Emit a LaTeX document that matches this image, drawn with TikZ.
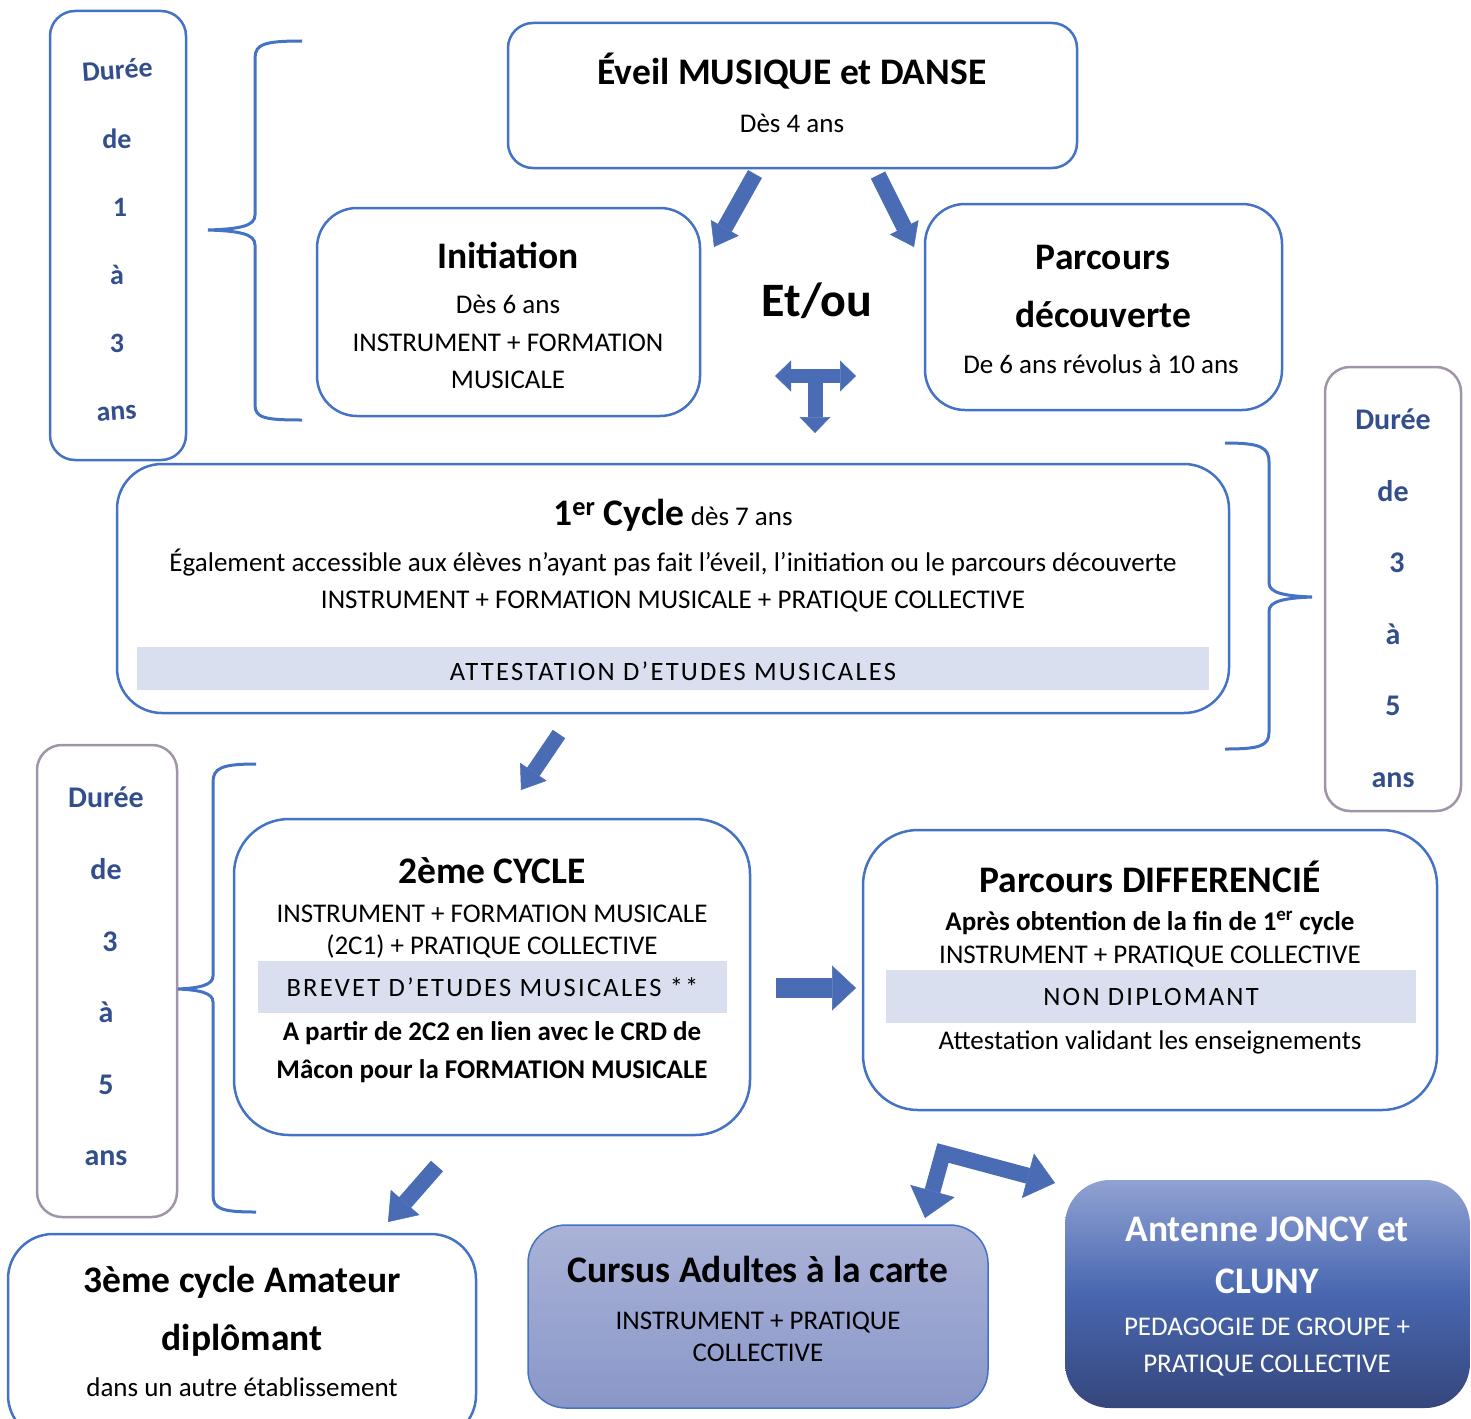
\documentclass[tikz,border=0pt]{standalone}
\usepackage{fontspec}
\setmainfont{Carlito}
\usetikzlibrary{arrows.meta}

\definecolor{boxblue}{RGB}{68,114,196}
\definecolor{arrowblue}{RGB}{74,108,180}
\definecolor{dureeblue}{RGB}{50,78,140}
\definecolor{dureegray}{RGB}{160,148,168}
\definecolor{bandgray}{RGB}{217,223,239}

\tikzset{
  box/.style={draw=boxblue, line width=2.5pt, rounded corners=#1, inner sep=0pt},
  box/.default=40pt,
  body/.style={font=\fontsize{27}{32}\selectfont, anchor=base, inner sep=0pt},
  bodybold/.style={font=\fontsize{27}{32}\selectfont\bfseries, anchor=base, inner sep=0pt},
  heading/.style={font=\fontsize{37.5}{44}\selectfont\bfseries, anchor=base, inner sep=0pt},
  duree/.style={font=\fontsize{30}{36}\selectfont\bfseries, text=dureeblue, anchor=base, inner sep=0pt},
  band/.style={fill=bandgray, inner sep=0pt, font=\fontsize{26.5}{31}\selectfont\addfontfeature{LetterSpace=8.5}},
  brace/.style={draw=boxblue, line width=3pt},
  blockarrow/.style n args={3}{line width=#1, draw=arrowblue,
    -{Triangle[width=#2, length=#3, line width=0.5pt]}},
  blockarrows/.style n args={3}{line width=#1, draw=arrowblue, line join=miter,
    {Triangle[width=#2, length=#3, line width=0.5pt]}-{Triangle[width=#2, length=#3, line width=0.5pt]}}
}

\begin{document}
\begin{tikzpicture}[x=1pt, y=-1pt]
        \useasboundingbox (0,0) rectangle (1471,1418);

        % Boxes
        \node[box=25pt, minimum width=569pt, minimum height=145pt] (eveil) at (792.5,95.5) {};
        \node[box, minimum width=383pt, minimum height=208pt] (initiation) at (508.5,312) {};
        \node[box, minimum width=357pt, minimum height=206pt] (decouverte) at (1103.5,307) {};
        \node[box=45pt, minimum width=1112pt, minimum height=249pt] (cycleone) at (673,588.5) {};
        \node[box=55pt, minimum width=516pt, minimum height=316pt] (cycletwo) at (492,977) {};
        \node[box=55pt, minimum width=574pt, minimum height=280pt] (differencie) at (1150,970) {};
        \node[box=45pt, minimum width=468pt, minimum height=206pt] (cyclethree) at (242,1337) {};
        \node[box=38pt, line width=1.5pt, top color={rgb,255:red,170;green,178;blue,215},
              bottom color={rgb,255:red,137;green,151;blue,200},
              minimum width=460pt, minimum height=183pt] (adultes) at (758,1316.5) {};
        \node[box=45pt, draw=none, top color={rgb,255:red,145;green,162;blue,211},
              bottom color={rgb,255:red,53;green,70;blue,124},
              middle color={rgb,255:red,72;green,103;blue,176},
              minimum width=405pt, minimum height=228pt] (antenne) at (1267.5,1294) {};

        % Duration boxes
        \node[box=25pt, minimum width=136pt, minimum height=449pt] (dureeA) at (118,235.5) {};
        \node[box=25pt, draw=dureegray, minimum width=136pt, minimum height=444pt] (dureeB) at (1393,589) {};
        \node[box=25pt, draw=dureegray, minimum width=140pt, minimum height=472pt] (dureeC) at (107,981) {};

        % Bands
        \node[band, text height=24pt, minimum width=1072pt, minimum height=43pt] (attestation) at (673,668.5) {ATTESTATION D’ETUDES MUSICALES};
        \node[band, minimum width=469pt, minimum height=52pt] (brevet) at (492.5,987) {BREVET D’ETUDES MUSICALES **};
        \node[band, minimum width=530pt, minimum height=53pt] (nondiplomant) at (1151,996.5) {NON DIPLOMANT};

        % Texts
        \node[heading] at (792,85) {Éveil MUSIQUE et DANSE};
        \node[body] at (792,132) {Dès 4 ans};

        \node[heading] at (508,268) {Initiation};
        \node[body] at (508,313) {Dès 6 ans};
        \node[body] at (508,351) {INSTRUMENT + FORMATION};
        \node[body] at (508,388) {MUSICALE};

        \node[heading] at (1103,269) {Parcours};
        \node[heading] at (1103,327) {découverte};
        \node[body] at (1101,373) {De 6 ans révolus à 10 ans};

        \node[font=\fontsize{48}{56}\selectfont\bfseries, anchor=base, inner sep=0pt] (etou) at (817,316) {Et/ou};

        \node[anchor=base, inner sep=0pt] at (673,525) {\fontsize{37.5}{44}\selectfont\bfseries 1\textsuperscript{er} Cycle\fontsize{27}{32}\selectfont\mdseries{} dès 7 ans};
        \node[body] at (673,571) {Également accessible aux élèves n’ayant pas fait l’éveil, l’initiation ou le parcours découverte};
        \node[body] at (673,608) {INSTRUMENT + FORMATION MUSICALE + PRATIQUE COLLECTIVE};

        \node[heading] at (492,883) {2ème CYCLE};
        \node[body] at (492,922) {INSTRUMENT + FORMATION MUSICALE};
        \node[body] at (492,954) {(2C1) + PRATIQUE COLLECTIVE};
        \node[bodybold] at (492,1040) {A partir de 2C2 en lien avec le CRD de};
        \node[bodybold] at (492,1078) {Mâcon pour la FORMATION MUSICALE};

        \node[heading] at (1150,892) {Parcours DIFFERENCIÉ};
        \node[bodybold] at (1150,930) {Après obtention de la fin de 1\textsuperscript{er} cycle};
        \node[body] at (1150,963) {INSTRUMENT + PRATIQUE COLLECTIVE};
        \node[body] at (1150,1049) {Attestation validant les enseignements};

        \node[heading] at (242,1292) {3ème cycle Amateur};
        \node[heading] at (242,1350) {diplômant};
        \node[body] at (242,1396) {dans un autre établissement};

        \node[heading] at (758,1282) {Cursus Adultes à la carte};
        \node[body] at (758,1329) {INSTRUMENT + PRATIQUE};
        \node[body] at (758,1361) {COLLECTIVE};

        \node[heading, text=white] at (1267,1241) {Antenne JONCY et};
        \node[heading, text=white] at (1267,1293) {CLUNY};
        \node[body, text=white] at (1267,1335) {PEDAGOGIE DE GROUPE +};
        \node[body, text=white] at (1267,1372) {PRATIQUE COLLECTIVE};

        % Durations
        \node[duree, font=\fontsize{28}{34}\selectfont\bfseries, rotate=4] at (118,79) {Durée};
        \node[duree, font=\fontsize{28}{34}\selectfont\bfseries] at (117,148) {de};
        \node[duree, font=\fontsize{28}{34}\selectfont\bfseries] at (120,216) {1};
        \node[duree, font=\fontsize{28}{34}\selectfont\bfseries] at (117,284) {à};
        \node[duree, font=\fontsize{28}{34}\selectfont\bfseries] at (117,352) {3};
        \node[duree, font=\fontsize{28}{34}\selectfont\bfseries, rotate=4] at (117,420) {ans};

        \node[duree] at (1393,429) {Durée};
        \node[duree] at (1393,501) {de};
        \node[duree] at (1397,572) {3};
        \node[duree] at (1393,644) {à};
        \node[duree] at (1393,715) {5};
        \node[duree] at (1393,787) {ans};

        \node[duree] at (106,807) {Durée};
        \node[duree] at (106,879) {de};
        \node[duree] at (110,951) {3};
        \node[duree] at (106,1022) {à};
        \node[duree] at (106,1094) {5};
        \node[duree] at (106,1165) {ans};

        % Braces
        \draw[brace] (302,41) .. controls (265,41) and (255,44) .. (255,58) -- (255,215)
              .. controls (255,226) and (240,229) .. (208,230)
              .. controls (240,231) and (255,234) .. (255,245) -- (255,405)
              .. controls (255,418) and (265,420) .. (302,420);
        \draw[brace] (1225,443) .. controls (1260,443) and (1269,447) .. (1269,462) -- (1269,583)
              .. controls (1269,593) and (1285,596) .. (1312,597)
              .. controls (1285,598) and (1269,601) .. (1269,611) -- (1269,732)
              .. controls (1269,746) and (1260,749) .. (1225,749);
        \draw[brace] (256,764) .. controls (222,764) and (213,768) .. (213,782) -- (213,976)
              .. controls (213,985) and (200,988) .. (178,989)
              .. controls (200,990) and (213,993) .. (213,1002) -- (213,1195)
              .. controls (213,1209) and (222,1212) .. (256,1212);

        % Arrows
        \coordinate (a1s) at (755,174);  \coordinate (a1e) at (714,247);
        \coordinate (a2s) at (878,175);  \coordinate (a2e) at (914,247);
        \coordinate (tl) at (775,376);   \coordinate (tr) at (856,376);
        \coordinate (tc) at (815,372);   \coordinate (tb) at (815,433);
        \coordinate (a4s) at (559,734);  \coordinate (a4e) at (521,790);
        \coordinate (a5s) at (776,988);  \coordinate (a5e) at (856,988);
        \coordinate (a6s) at (437,1166); \coordinate (a6e) at (388,1222);
        \coordinate (ba) at (925,1218);  \coordinate (bc) at (943,1153);
        \coordinate (bb) at (1055,1183);

        \draw[blockarrow={16pt}{32pt}{22pt}] (a1s) -- (a1e);
        \draw[blockarrow={16pt}{32pt}{22pt}] (a2s) -- (a2e);
        \draw[blockarrows={14pt}{31pt}{16pt}] (tl) -- (tr);
        \draw[blockarrow={15pt}{31pt}{16pt}] (tc) -- (tb);
        \draw[blockarrow={15pt}{32pt}{22pt}] (a4s) -- (a4e);
        \draw[blockarrow={20pt}{45pt}{24pt}] (a5s) -- (a5e);
        \draw[blockarrow={16pt}{38pt}{26pt}] (a6s) -- (a6e);
        \draw[blockarrows={16pt}{46pt}{28pt}] (ba) -- (bc) -- (bb);
\end{tikzpicture}
\end{document}
